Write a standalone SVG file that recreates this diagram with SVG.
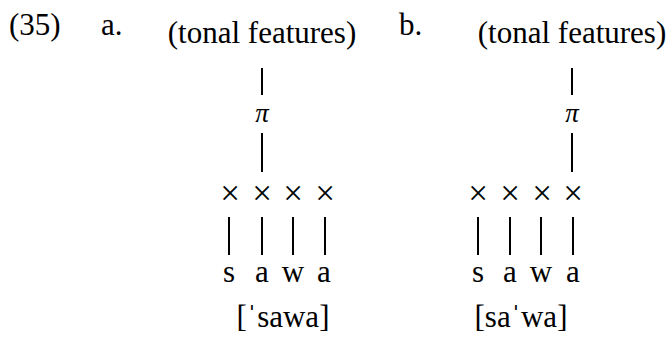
<svg xmlns="http://www.w3.org/2000/svg" width="672" height="341" viewBox="0 0 672 341" font-family="'Liberation Serif', 'Times New Roman', Times, serif">
<style>
text{font-family:"Liberation Serif",Times,serif;font-size:31px;fill:#000}
.m{text-anchor:middle}
.pi{font-style:italic;font-size:27px}
.x{font-size:35px}
.c line{stroke:#000;stroke-width:2}
</style>
<rect width="672" height="341" fill="#fff"/>
<text x="9" y="35">(35)</text>
<text x="101" y="35">a.</text>
<text x="399" y="35">b.</text>
<g id="a-tonal"><text class="m" x="262" y="43">(tonal features)</text></g>
<g id="a-pi"><text class="m pi" x="262" y="122">π</text></g>
<g id="a-x1"><text class="m x" x="230" y="205">×</text></g>
<g id="a-x2"><text class="m x" x="262" y="205">×</text></g>
<g id="a-x3"><text class="m x" x="293" y="205">×</text></g>
<g id="a-x4"><text class="m x" x="325" y="205">×</text></g>
<g id="a-s"><text class="m" x="229" y="282">s</text></g>
<g id="a-a1"><text class="m" x="262" y="282">a</text></g>
<g id="a-w"><text class="m" x="293" y="282">w</text></g>
<g id="a-a2"><text class="m" x="324" y="282">a</text></g>
<g id="a-ipa"><text class="m" x="283" y="327">[ˈsawa]</text></g>
<g id="b-tonal"><text class="m" x="572" y="43">(tonal features)</text></g>
<g id="b-pi"><text class="m pi" x="572" y="122">π</text></g>
<g id="b-x1"><text class="m x" x="478" y="205">×</text></g>
<g id="b-x2"><text class="m x" x="510" y="205">×</text></g>
<g id="b-x3"><text class="m x" x="542" y="205">×</text></g>
<g id="b-x4"><text class="m x" x="573" y="205">×</text></g>
<g id="b-s"><text class="m" x="478" y="282">s</text></g>
<g id="b-a1"><text class="m" x="510" y="282">a</text></g>
<g id="b-w"><text class="m" x="541" y="282">w</text></g>
<g id="b-a2"><text class="m" x="573" y="282">a</text></g>
<g id="b-ipa"><text class="m" x="521" y="327">[saˈwa]</text></g>
<g id="connectors" class="c">
<line x1="262" y1="68" x2="262" y2="95"/>
<line x1="262" y1="133" x2="262" y2="172"/>
<line x1="229" y1="217" x2="229" y2="255"/>
<line x1="262" y1="217" x2="262" y2="255"/>
<line x1="293" y1="217" x2="293" y2="255"/>
<line x1="325" y1="217" x2="325" y2="255"/>
<line x1="572" y1="68" x2="572" y2="95"/>
<line x1="572" y1="133" x2="572" y2="172"/>
<line x1="478" y1="217" x2="478" y2="255"/>
<line x1="510" y1="217" x2="510" y2="255"/>
<line x1="541" y1="217" x2="541" y2="255"/>
<line x1="573" y1="217" x2="573" y2="255"/>
</g>
</svg>
